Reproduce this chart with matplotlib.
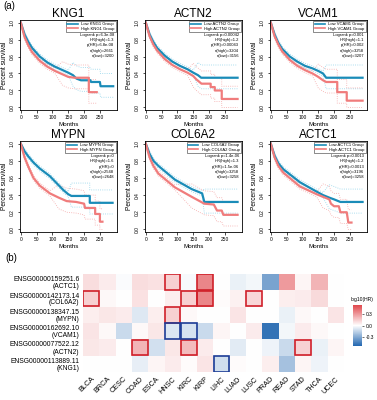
import numpy as np
import matplotlib.pyplot as plt
from matplotlib.colors import LinearSegmentedColormap
from matplotlib.lines import Line2D
from matplotlib.patches import Rectangle

plt.rcParams['font.family'] = ['Liberation Sans', 'DejaVu Sans']

W, H = 377, 400

# ---------------- (a) Kaplan-Meier data (months, survival) ----------------
KNG1_low_t = [0, 12, 24, 36, 60, 84, 108, 132, 150, 165, 176, 190, 220, 222, 250, 252, 292]
KNG1_low_s = [1, .86, .77, .70, .60, .53, .48, .44, .41, .38, .34, .32, .32, .30, .30, .25, .25]
KNG1_high_t = [0, 12, 24, 36, 60, 84, 108, 132, 150, 170, 215, 215, 240]
KNG1_high_s = [1, .83, .73, .65, .55, .48, .43, .39, .36, .35, .35, .18, .18]

ACTN2_low_t = [0, 12, 24, 36, 60, 84, 108, 132, 150, 165, 175, 290]
ACTN2_low_s = [1, .86, .77, .70, .61, .54, .49, .45, .41, .38, .35, .35]
ACTN2_high_t = [0, 12, 24, 36, 60, 84, 108, 132, 150, 160, 176, 205, 205, 218, 218, 240, 240, 290]
ACTN2_high_s = [1, .84, .74, .67, .57, .50, .45, .41, .37, .33, .28, .28, .24, .24, .20, .20, .10, .10]

VCAM1_low_t = [0, 12, 24, 36, 60, 84, 108, 132, 150, 165, 175, 290]
VCAM1_low_s = [1, .86, .76, .69, .60, .54, .49, .46, .43, .40, .35, .35]
VCAM1_high_t = [0, 12, 24, 36, 60, 84, 108, 132, 150, 165, 175, 210, 210, 240, 240, 290]
VCAM1_high_s = [1, .84, .74, .66, .56, .49, .44, .40, .36, .32, .30, .30, .18, .18, .08, .08]

MYPN_low_t = [0, 12, 24, 40, 60, 92, 134, 150, 160, 218, 218, 290]
MYPN_low_s = [1, .91, .85, .78, .71, .62, .46, .41, .39, .39, .31, .31]
MYPN_high_t = [0, 12, 24, 40, 60, 92, 120, 145, 175, 200, 203, 235, 235, 250, 250, 258]
MYPN_high_s = [1, .84, .73, .60, .51, .42, .37, .33, .32, .30, .25, .25, .18, .18, .09, .09]

COL6A2_low_t = [0, 12, 24, 40, 92, 145, 165, 178, 185, 290]
COL6A2_low_s = [1, .88, .80, .74, .58, .47, .44, .42, .32, .32]
COL6A2_high_t = [0, 12, 24, 40, 92, 145, 170, 185, 215, 225, 240, 245, 290]
COL6A2_high_s = [1, .84, .74, .65, .49, .38, .33, .30, .29, .22, .22, .17, .17]

ACTC1_low_t = [0, 12, 24, 40, 92, 145, 165, 185, 200, 220, 290]
ACTC1_low_s = [1, .86, .77, .70, .55, .44, .40, .37, .35, .32, .32]
ACTC1_high_t = [0, 12, 24, 40, 92, 145, 165, 185, 190, 200, 215, 220, 240, 245, 255]
ACTC1_high_s = [1, .84, .74, .66, .50, .41, .38, .35, .30, .27, .27, .20, .20, .08, .08]

genes = ["KNG1", "ACTN2", "VCAM1", "MYPN", "COL6A2", "ACTC1"]
stats = {
    "KNG1": ["Logrank p=6.3e-08", "HR(high)=1.3", "p(HR)=6.8e-08", "n(high)=2661", "n(low)=3200"],
    "ACTN2": ["Logrank p=0.00042", "HR(high)=1.2", "p(HR)=0.00043", "n(high)=3204", "n(low)=3156"],
    "VCAM1": ["Logrank p=0.001", "HR(high)=1.1", "p(HR)=0.002", "n(high)=3258", "n(low)=3207"],
    "MYPN": ["Logrank p=0", "HR(high)=1.6", "p(HR)=0", "n(high)=2548", "n(low)=2648"],
    "COL6A2": ["Logrank p=1.4e-06", "HR(high)=1.3", "p(HR)=1.5e-06", "n(high)=3258", "n(low)=3258"],
    "ACTC1": ["Logrank p=0.0013", "HR(high)=1.2", "p(HR)=0.0013", "n(high)=3196", "n(low)=3258"],
}
curves = {
    "KNG1": (KNG1_low_t, KNG1_low_s, KNG1_high_t, KNG1_high_s),
    "ACTN2": (ACTN2_low_t, ACTN2_low_s, ACTN2_high_t, ACTN2_high_s),
    "VCAM1": (VCAM1_low_t, VCAM1_low_s, VCAM1_high_t, VCAM1_high_s),
    "MYPN": (MYPN_low_t, MYPN_low_s, MYPN_high_t, MYPN_high_s),
    "COL6A2": (COL6A2_low_t, COL6A2_low_s, COL6A2_high_t, COL6A2_high_s),
    "ACTC1": (ACTC1_low_t, ACTC1_low_s, ACTC1_high_t, ACTC1_high_s),
}

# ---------------- (b) heatmap data: log10(HR) ----------------
hm_genes = ["ENSG00000159251.6\n(ACTC1)", "ENSG00000142173.14\n(COL6A2)",
            "ENSG00000138347.15\n(MYPN)", "ENSG00000162692.10\n(VCAM1)",
            "ENSG00000077522.12\n(ACTN2)", "ENSG00000113889.11\n(KNG1)"]
cancers = ["BLCA", "BRCA", "CESC", "COAD", "ESCA", "HNSC", "KIRC", "KIRP",
           "LIHC", "LUAD", "LUSC", "PRAD", "READ", "STAD", "THCA", "UCEC"]
ACTC1_hr = [.10, .06, -.01, .10, .09, .14, -.02, .36, 0, -.05, -.03, -.33, .30, .03, .22, 0]
COL6A2_hr = [.14, .02, 0, .09, 0, .05, .14, .36, .01, .04, .12, 0, .05, .06, .11, 0]
MYPN_hr = [.05, .07, .06, -.08, .05, .14, .02, 0, 0, .08, 0, 0, -.05, .02, 0, .08]
VCAM1_hr = [.08, .02, -.13, .02, .07, -.09, -.10, -.13, .03, 0, .06, -.50, -.03, .06, .02, 0]
ACTN2_hr = [.07, .06, 0, .22, -.11, .07, .20, .06, 0, -.07, 0, -.04, -.13, .13, -.05, .03]
KNG1_hr = [0, 0, 0, -.06, .03, .06, .01, .08, -.12, .01, 0, .05, -.22, .03, -.04, 0]
sig_up = [(0, "HNSC"), (0, "KIRP"), (1, "BLCA"), (1, "KIRC"), (1, "KIRP"), (1, "LUSC"),
          (2, "HNSC"), (4, "COAD"), (4, "KIRC"), (4, "STAD")]
sig_down = [(3, "HNSC"), (3, "KIRC"), (5, "LIHC")]

LOW_C, HIGH_C = "#1a8cb8", "#f07c7c"

fig = plt.figure(figsize=(W / 100, H / 100), dpi=100)


def px_axes(l, t, r, b):
    return fig.add_axes([l / W, 1 - b / H, (r - l) / W, (b - t) / H])


col_x = [(19.5, 117), (144.5, 242), (269.5, 367)]
row_y = [(20, 110), (141, 232)]

for i, g in enumerate(genes):
    l, r = col_x[i % 3]
    t, b = row_y[i // 3]
    ax = px_axes(l, t, r, b)
    lt, ls, ht, hs = curves[g]
    # dotted confidence band guide lines
    for tt, ss, c in [(lt, ls, "#8fd3ea"), (ht, hs, "#f5a8a8")]:
        ss = np.array(ss)
        ax.plot(tt, np.clip(ss + 0.03 + 0.12 * (ss < 0.4), 0, 1), ls=":", lw=0.6, color=c)
        ax.plot(tt, np.clip(ss - 0.03 - 0.10 * (ss < 0.4), 0, 1), ls=":", lw=0.6, color=c)
    ax.plot(lt, ls, color=LOW_C, lw=1.6)
    ax.plot(ht, hs, color=HIGH_C, lw=1.6)
    ax.set_xlim(-4, 304)
    ax.set_ylim(-0.03, 1.03)
    ax.set_xticks([0, 50, 100, 150, 200, 250])
    ax.set_yticks([0, .2, .4, .6, .8, 1.0])
    ax.set_yticklabels(["0.0", "0.2", "0.4", "0.6", "0.8", "1.0"], rotation=90, va="center")
    ax.tick_params(labelsize=3.5, length=1.8, width=0.5, pad=1.5)
    for sp in ax.spines.values():
        sp.set_linewidth(0.6)
    ax.set_title(g, fontsize=8.5, pad=2)
    ax.set_xlabel("Months", fontsize=4.5, labelpad=1.5)
    ax.set_ylabel("Percent survival", fontsize=4.8, labelpad=1.5)
    handles = [Line2D([], [], color=LOW_C, lw=1.2), Line2D([], [], color=HIGH_C, lw=1.2)]
    leg = ax.legend(handles, [f"Low {g} Group", f"High {g} Group"], loc="upper right",
                    fontsize=3, frameon=True, fancybox=False, edgecolor="black",
                    handlelength=2.5, borderpad=0.3, labelspacing=0.1, borderaxespad=0.3)
    leg.get_frame().set_linewidth(0.4)
    for k, s in enumerate(stats[g]):
        ax.text(0.97, 0.855 - k * 0.058, s, transform=ax.transAxes, ha="right", va="top",
                fontsize=3)

fig.text(3 / W, 1 - 6 / H, "(a)", fontsize=7, va="center")
fig.text(5 / W, 1 - 258 / H, "(b)", fontsize=7, va="center")

# ---------------- heatmap ----------------
hm = np.array([ACTC1_hr, COL6A2_hr, MYPN_hr, VCAM1_hr, ACTN2_hr, KNG1_hr])
cmap = LinearSegmentedColormap.from_list("hr", ["#2166b0", "#ffffff", "#e0474c"])
hax = px_axes(83, 274, 343.5, 372)
im = hax.imshow(hm, cmap=cmap, vmin=-0.55, vmax=0.55, aspect="auto")
hax.set_xticks(range(len(cancers)))
hax.set_xticklabels(cancers, rotation=45, ha="right", va="top", fontsize=5.2,
                    rotation_mode="anchor")
hax.set_yticks(range(len(hm_genes)))
hax.set_yticklabels(hm_genes, fontsize=4.9, ha="right", multialignment="right",
                    linespacing=1.0)
hax.tick_params(length=0, pad=2.5)
for sp in hax.spines.values():
    sp.set_visible(False)
for rows, color in [(sig_up, "#d0202a"), (sig_down, "#1d3c96")]:
    for ri, cn in rows:
        ci = cancers.index(cn)
        hax.add_patch(Rectangle((ci - 0.48, ri - 0.48), 0.96, 0.96, fill=False,
                                edgecolor=color, lw=1.2))

cax = px_axes(353, 305, 362, 346)
cb = fig.colorbar(im, cax=cax, ticks=[-0.3, 0.0, 0.3])
cb.ax.set_yticklabels(["-0.3", "0.0", "0.3"])
cb.ax.tick_params(labelsize=3.5, length=1.5, width=0.4, pad=1)
cb.outline.set_visible(False)
fig.text(351 / W, 1 - 300 / H, "log10(HR)", fontsize=3.6, ha="left", va="center")

fig.savefig("out.png", dpi=100)
